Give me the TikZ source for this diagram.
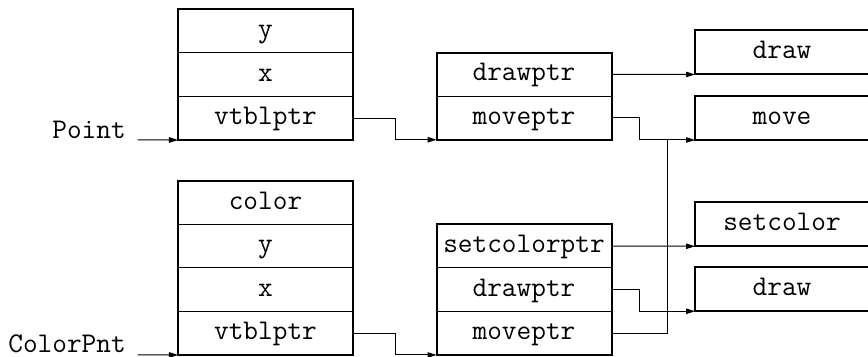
\documentclass[tikz,border=0pt]{standalone}
\usetikzlibrary{positioning, arrows.meta, calc}

\begin{document}
\begin{tikzpicture}[
    x=0.4pt, y=-0.4pt,
    >={Triangle[length=3.6pt, width=2.2pt]},
    cell/.style={
        draw, line width=0.4pt,
        minimum width=70pt, minimum height=17.4pt,
        inner sep=0pt, outer sep=0pt,
        font=\fontsize{11.4}{13}\selectfont\ttfamily,
        text height=7.2pt, text depth=2pt
    },
    frame/.style={line width=0.8pt},
    fun/.style={
        cell, line width=0.8pt,
        minimum width=69.6pt, minimum height=17.6pt
    },
    ptr/.style={->, line width=0.4pt},
    lbl/.style={font=\fontsize{11.4}{13}\selectfont\ttfamily, inner sep=0.5pt, anchor=south east}
]
    \useasboundingbox (0,0) rectangle (868,357);

    % Point object
    \node[cell] (py) at (265.5,31.25) {y};
    \node[cell, below=0pt of py] (px) {x};
    \node[cell, below=0pt of px] (pvt) {vtblptr};
    \draw[frame] (py.north west) rectangle (pvt.south east);

    % Point vtable
    \node[cell] (pdrawp) at (524,74.5) {drawptr};
    \node[cell, below=0pt of pdrawp] (pmovep) {moveptr};
    \draw[frame] (pdrawp.north west) rectangle (pmovep.south east);

    % ColorPnt object
    \node[cell] (ccol) at (265.5,202.75) {color};
    \node[cell, below=0pt of ccol] (cy) {y};
    \node[cell, below=0pt of cy] (cx) {x};
    \node[cell, below=0pt of cx] (cvt) {vtblptr};
    \draw[frame] (ccol.north west) rectangle (cvt.south east);

    % ColorPnt vtable
    \node[cell] (csetp) at (524,246.25) {setcolorptr};
    \node[cell, below=0pt of csetp] (cdrawp) {drawptr};
    \node[cell, below=0pt of cdrawp] (cmovep) {moveptr};
    \draw[frame] (csetp.north west) rectangle (cmovep.south east);

    % functions
    \node[fun] (fdraw) at (782,52.5) {draw};
    \node[fun] (fmove) at (782,118) {move};
    \node[fun] (fset) at (782,224.25) {setcolor};
    \node[fun] (fdraw2) at (782,289.25) {draw};

    % labels
    \node[lbl] (point) at (127.5,140) {Point};
    \node[lbl] (colorpnt) at (127.5,355) {ColorPnt};

    \draw[ptr] ([xshift=4pt]point.south east) -- (pvt.south west);
    \draw[ptr] ([xshift=4pt]colorpnt.south east) -- (cvt.south west);

    \draw[ptr] (pvt.east) -- ++(42,0) |- (pmovep.south west);
    \draw[ptr] (cvt.east) -- ++(42,0) |- (cmovep.south west);

    \draw[ptr] (pdrawp.east) -- (fdraw.south west);
    \draw[ptr] (pmovep.east) -- ++(28,0) |- (fmove.south west);
    \coordinate (join) at ($(fmove.south west)+(-28,0)$);

    \draw[ptr] (csetp.east) -- (fset.south west);
    \draw[ptr] (cdrawp.east) -- ++(28,0) |- (fdraw2.south west);
    \draw (cmovep.east) -| (join);
\end{tikzpicture}
\end{document}
